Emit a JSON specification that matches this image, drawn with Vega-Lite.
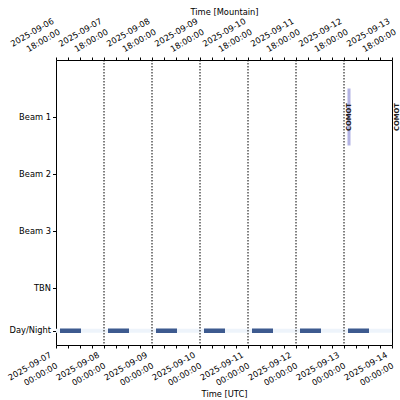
{
  "$schema": "https://vega.github.io/schema/vega-lite/v6.json",
  "width": 336,
  "height": 285,
  "autosize": {"type": "none"},
  "padding": {"left": 56, "top": 60, "right": 8, "bottom": 55},
  "background": "white",
  "config": {
    "view": {"stroke": "black", "strokeWidth": 1},
    "axis": {
      "domain": false,
      "grid": false,
      "labelFont": "DejaVu Sans",
      "labelFontSize": 8.3,
      "labelColor": "black",
      "tickColor": "black",
      "titleFont": "DejaVu Sans",
      "titleFontSize": 8.3,
      "titleFontWeight": "normal",
      "titleColor": "black"
    }
  },
  "datasets": {
    "band": [
      {"start": "2025-09-07T00:00:00Z", "end": "2025-09-14T00:00:00Z", "row": 0.25}
    ],
    "night": [
      {"start": "2025-09-07T02:00:00Z", "end": "2025-09-07T12:30:00Z", "row": 0.25},
      {"start": "2025-09-08T02:00:00Z", "end": "2025-09-08T12:30:00Z", "row": 0.25},
      {"start": "2025-09-09T02:00:00Z", "end": "2025-09-09T12:30:00Z", "row": 0.25},
      {"start": "2025-09-10T02:00:00Z", "end": "2025-09-10T12:30:00Z", "row": 0.25},
      {"start": "2025-09-11T02:00:00Z", "end": "2025-09-11T12:30:00Z", "row": 0.25},
      {"start": "2025-09-12T02:00:00Z", "end": "2025-09-12T12:30:00Z", "row": 0.25},
      {"start": "2025-09-13T02:00:00Z", "end": "2025-09-13T12:30:00Z", "row": 0.25}
    ],
    "midnights": [
      {"t": "2025-09-08T00:00:00Z"},
      {"t": "2025-09-09T00:00:00Z"},
      {"t": "2025-09-10T00:00:00Z"},
      {"t": "2025-09-11T00:00:00Z"},
      {"t": "2025-09-12T00:00:00Z"},
      {"t": "2025-09-13T00:00:00Z"}
    ],
    "comot": [
      {"t": "2025-09-13T02:30:00Z", "lo": 3.5, "hi": 4.5, "mid": 4, "label": "COMOT"},
      {"t": "2025-09-14T02:30:00Z", "lo": 3.5, "hi": 4.5, "mid": 4, "label": "COMOT"}
    ]
  },
  "resolve": {"axis": {"x": "independent"}},
  "layer": [
    {
      "data": {"name": "band"},
      "mark": {"type": "rule", "color": "#eef4fb", "strokeWidth": 4},
      "encoding": {
        "x": {
          "field": "start", "type": "temporal",
          "scale": {"type": "utc", "domain": [{"year": 2025, "month": 9, "date": 7, "utc": true}, {"year": 2025, "month": 9, "date": 14, "utc": true}]},
          "axis": {
            "orient": "bottom",
            "title": "Time [UTC]",
            "titlePadding": -3,
            "values": [
              {"year": 2025, "month": 9, "date": 7, "hours": 0, "utc": true},
              {"year": 2025, "month": 9, "date": 7, "hours": 6, "utc": true},
              {"year": 2025, "month": 9, "date": 7, "hours": 12, "utc": true},
              {"year": 2025, "month": 9, "date": 7, "hours": 18, "utc": true},
              {"year": 2025, "month": 9, "date": 8, "hours": 0, "utc": true},
              {"year": 2025, "month": 9, "date": 8, "hours": 6, "utc": true},
              {"year": 2025, "month": 9, "date": 8, "hours": 12, "utc": true},
              {"year": 2025, "month": 9, "date": 8, "hours": 18, "utc": true},
              {"year": 2025, "month": 9, "date": 9, "hours": 0, "utc": true},
              {"year": 2025, "month": 9, "date": 9, "hours": 6, "utc": true},
              {"year": 2025, "month": 9, "date": 9, "hours": 12, "utc": true},
              {"year": 2025, "month": 9, "date": 9, "hours": 18, "utc": true},
              {"year": 2025, "month": 9, "date": 10, "hours": 0, "utc": true},
              {"year": 2025, "month": 9, "date": 10, "hours": 6, "utc": true},
              {"year": 2025, "month": 9, "date": 10, "hours": 12, "utc": true},
              {"year": 2025, "month": 9, "date": 10, "hours": 18, "utc": true},
              {"year": 2025, "month": 9, "date": 11, "hours": 0, "utc": true},
              {"year": 2025, "month": 9, "date": 11, "hours": 6, "utc": true},
              {"year": 2025, "month": 9, "date": 11, "hours": 12, "utc": true},
              {"year": 2025, "month": 9, "date": 11, "hours": 18, "utc": true},
              {"year": 2025, "month": 9, "date": 12, "hours": 0, "utc": true},
              {"year": 2025, "month": 9, "date": 12, "hours": 6, "utc": true},
              {"year": 2025, "month": 9, "date": 12, "hours": 12, "utc": true},
              {"year": 2025, "month": 9, "date": 12, "hours": 18, "utc": true},
              {"year": 2025, "month": 9, "date": 13, "hours": 0, "utc": true},
              {"year": 2025, "month": 9, "date": 13, "hours": 6, "utc": true},
              {"year": 2025, "month": 9, "date": 13, "hours": 12, "utc": true},
              {"year": 2025, "month": 9, "date": 13, "hours": 18, "utc": true},
              {"year": 2025, "month": 9, "date": 14, "hours": 0, "utc": true}
            ],
            "labelExpr": "utchours(datum.value)==0 ? [utcFormat(datum.value,'%Y-%m-%d'), utcFormat(datum.value,'%H:%M:%S')] : ''",
            "tickSize": 3,
            "labelAngle": -30,
            "labelAlign": "right",
            "labelBaseline": "top",
            "labelOffset": -8,
            "labelPadding": 2,
            "labelLineHeight": 12.5,
            "labelOverlap": false
          }
        },
        "x2": {"field": "end"},
        "y": {
          "field": "row", "type": "quantitative",
          "scale": {"domain": [0, 5], "nice": false, "zero": false},
          "axis": {
            "title": null,
            "values": [0.25, 1, 2, 3, 4],
            "labelExpr": "datum.value==4 ? 'Beam 1' : datum.value==3 ? 'Beam 2' : datum.value==2 ? 'Beam 3' : datum.value==1 ? 'TBN' : 'Day/Night'",
            "tickSize": 3.5,
            "labelPadding": 2
          }
        }
      }
    },
    {
      "data": {"name": "night"},
      "mark": {"type": "rule", "color": "#3d5a8f", "strokeWidth": 4.5},
      "encoding": {
        "x": {
          "field": "start", "type": "temporal",
          "axis": {
            "orient": "top",
            "title": "Time [Mountain]",
            "titlePadding": 0,
            "values": [
              {"year": 2025, "month": 9, "date": 7, "hours": 0, "utc": true},
              {"year": 2025, "month": 9, "date": 7, "hours": 6, "utc": true},
              {"year": 2025, "month": 9, "date": 7, "hours": 12, "utc": true},
              {"year": 2025, "month": 9, "date": 7, "hours": 18, "utc": true},
              {"year": 2025, "month": 9, "date": 8, "hours": 0, "utc": true},
              {"year": 2025, "month": 9, "date": 8, "hours": 6, "utc": true},
              {"year": 2025, "month": 9, "date": 8, "hours": 12, "utc": true},
              {"year": 2025, "month": 9, "date": 8, "hours": 18, "utc": true},
              {"year": 2025, "month": 9, "date": 9, "hours": 0, "utc": true},
              {"year": 2025, "month": 9, "date": 9, "hours": 6, "utc": true},
              {"year": 2025, "month": 9, "date": 9, "hours": 12, "utc": true},
              {"year": 2025, "month": 9, "date": 9, "hours": 18, "utc": true},
              {"year": 2025, "month": 9, "date": 10, "hours": 0, "utc": true},
              {"year": 2025, "month": 9, "date": 10, "hours": 6, "utc": true},
              {"year": 2025, "month": 9, "date": 10, "hours": 12, "utc": true},
              {"year": 2025, "month": 9, "date": 10, "hours": 18, "utc": true},
              {"year": 2025, "month": 9, "date": 11, "hours": 0, "utc": true},
              {"year": 2025, "month": 9, "date": 11, "hours": 6, "utc": true},
              {"year": 2025, "month": 9, "date": 11, "hours": 12, "utc": true},
              {"year": 2025, "month": 9, "date": 11, "hours": 18, "utc": true},
              {"year": 2025, "month": 9, "date": 12, "hours": 0, "utc": true},
              {"year": 2025, "month": 9, "date": 12, "hours": 6, "utc": true},
              {"year": 2025, "month": 9, "date": 12, "hours": 12, "utc": true},
              {"year": 2025, "month": 9, "date": 12, "hours": 18, "utc": true},
              {"year": 2025, "month": 9, "date": 13, "hours": 0, "utc": true},
              {"year": 2025, "month": 9, "date": 13, "hours": 6, "utc": true},
              {"year": 2025, "month": 9, "date": 13, "hours": 12, "utc": true},
              {"year": 2025, "month": 9, "date": 13, "hours": 18, "utc": true},
              {"year": 2025, "month": 9, "date": 14, "hours": 0, "utc": true}
            ],
            "labelExpr": "utchours(datum.value)==0 ? [utcFormat(datum.value - 21600000,'%Y-%m-%d'), utcFormat(datum.value - 21600000,'%H:%M:%S')] : ''",
            "tickSize": 3,
            "labelAngle": -30,
            "labelAlign": "right",
            "labelBaseline": "bottom",
            "labelOffset": -1,
            "labelPadding": 33,
            "labelLineHeight": 12.5,
            "labelOverlap": false
          }
        },
        "x2": {"field": "end"},
        "y": {"field": "row", "type": "quantitative"}
      }
    },
    {
      "data": {"name": "midnights"},
      "mark": {"type": "rule", "color": "black", "strokeWidth": 1, "strokeDash": [1.5, 1.5]},
      "encoding": {
        "x": {"field": "t", "type": "temporal", "axis": null}
      }
    },
    {
      "data": {"name": "comot"},
      "mark": {"type": "rule", "color": "#b3b3e3", "strokeWidth": 3, "clip": true},
      "encoding": {
        "x": {"field": "t", "type": "temporal", "axis": null},
        "y": {"field": "lo", "type": "quantitative"},
        "y2": {"field": "hi"}
      }
    },
    {
      "data": {"name": "comot"},
      "mark": {"type": "text", "angle": 270, "font": "DejaVu Sans", "fontSize": 6.8, "fontWeight": "bold", "color": "#222222", "align": "center", "baseline": "middle"},
      "encoding": {
        "x": {"field": "t", "type": "temporal", "axis": null},
        "y": {"field": "mid", "type": "quantitative"},
        "text": {"field": "label"}
      }
    }
  ]
}
